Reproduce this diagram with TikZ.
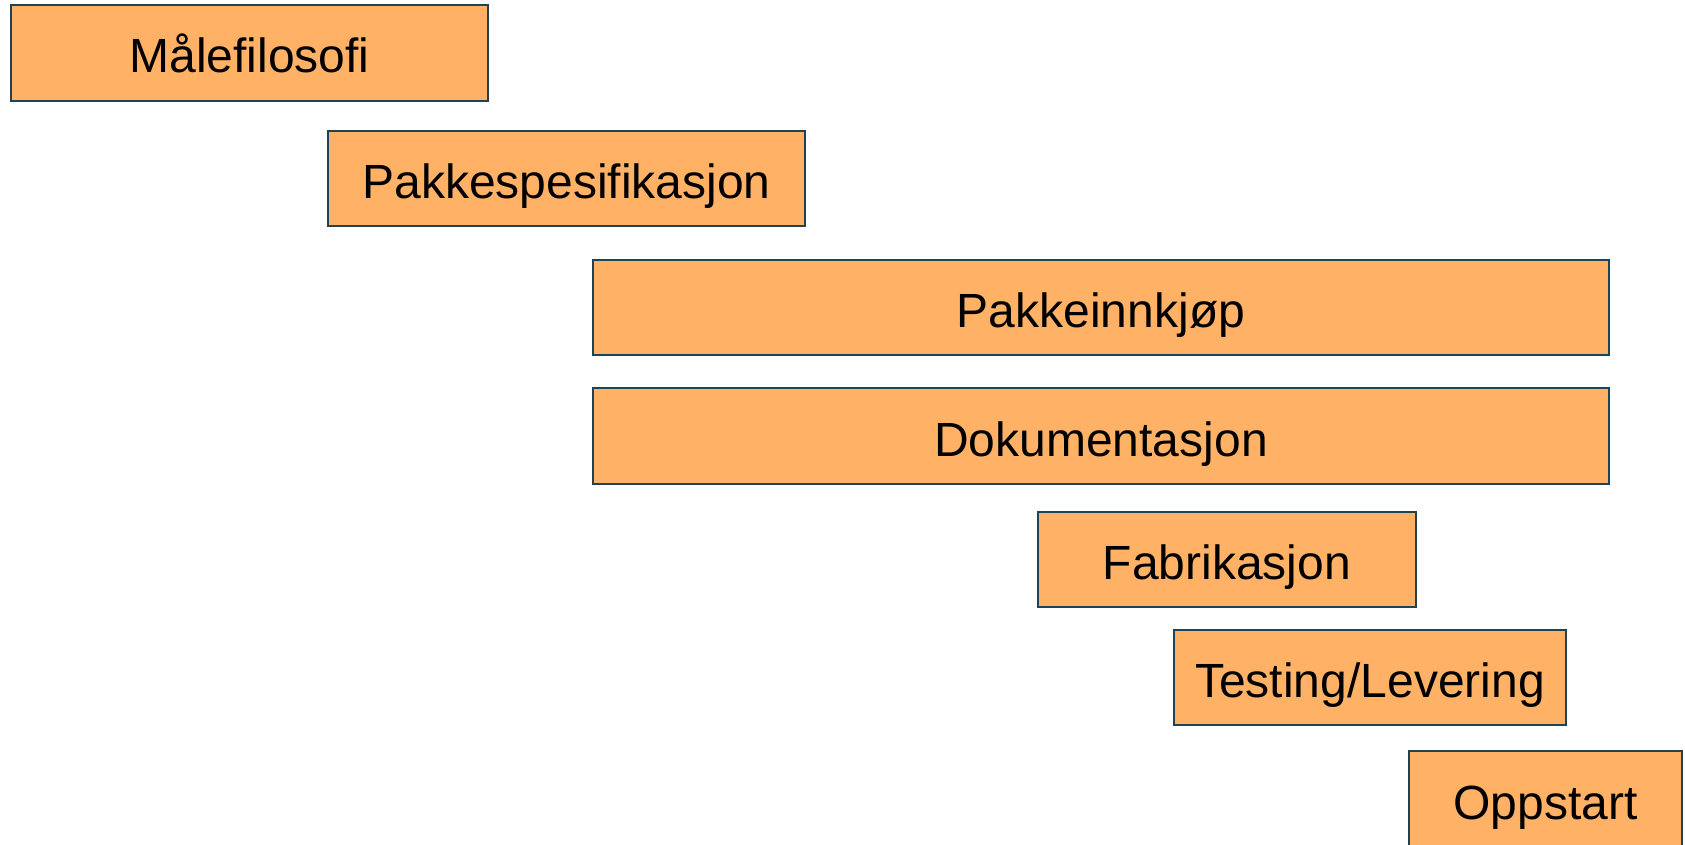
\documentclass[tikz,border=0pt]{standalone}
\usepackage{fontspec}
\setmainfont{Liberation Sans}
\definecolor{barfill}{HTML}{FFB266}
\definecolor{barline}{HTML}{1F4255}
\tikzset{
  bar/.style={draw=barline, line width=1.6pt, fill=barfill, inner sep=0pt,
    font=\fontsize{36}{40}\selectfont, text height=32pt, text depth=2pt},
}
\begin{document}
\begin{tikzpicture}[x=0.75pt,y=-0.75pt]
\useasboundingbox (0,0) rectangle (1685,845);
\clip (0,0) rectangle (1685,845);
\newcommand\barbox[6]{%
  \node[bar, minimum width={(#4-#2)*0.75pt}, minimum height={(#5-#3)*0.75pt}]
    (#1) at ({(#2+#4)/2},{(#3+#5)/2}) {#6};}
\barbox{m}{11}{5}{488}{101}{Målefilosofi}
\barbox{ps}{328}{131}{805}{226}{Pakkespesifikasjon}
\barbox{pi}{593}{260}{1609}{355}{Pakkeinnkjøp}
\barbox{dok}{593}{388}{1609}{484}{Dokumentasjon}
\barbox{fab}{1038}{512}{1416}{607}{Fabrikasjon}
\barbox{tl}{1174}{630}{1566}{725}{Testing/Levering}
\node[bar, minimum width={(1682-1409)*0.75pt}, minimum height={(855-751)*0.75pt}]
  (opp) at ({(1409+1682)/2},{(751+855)/2}) {};
\node[font=\fontsize{36}{40}\selectfont, text height=32pt, text depth=2pt, inner sep=0pt]
  (opptxt) at ({(1409+1682)/2},{(751+845)/2+1}) {Oppstart};
\end{tikzpicture}
\end{document}
